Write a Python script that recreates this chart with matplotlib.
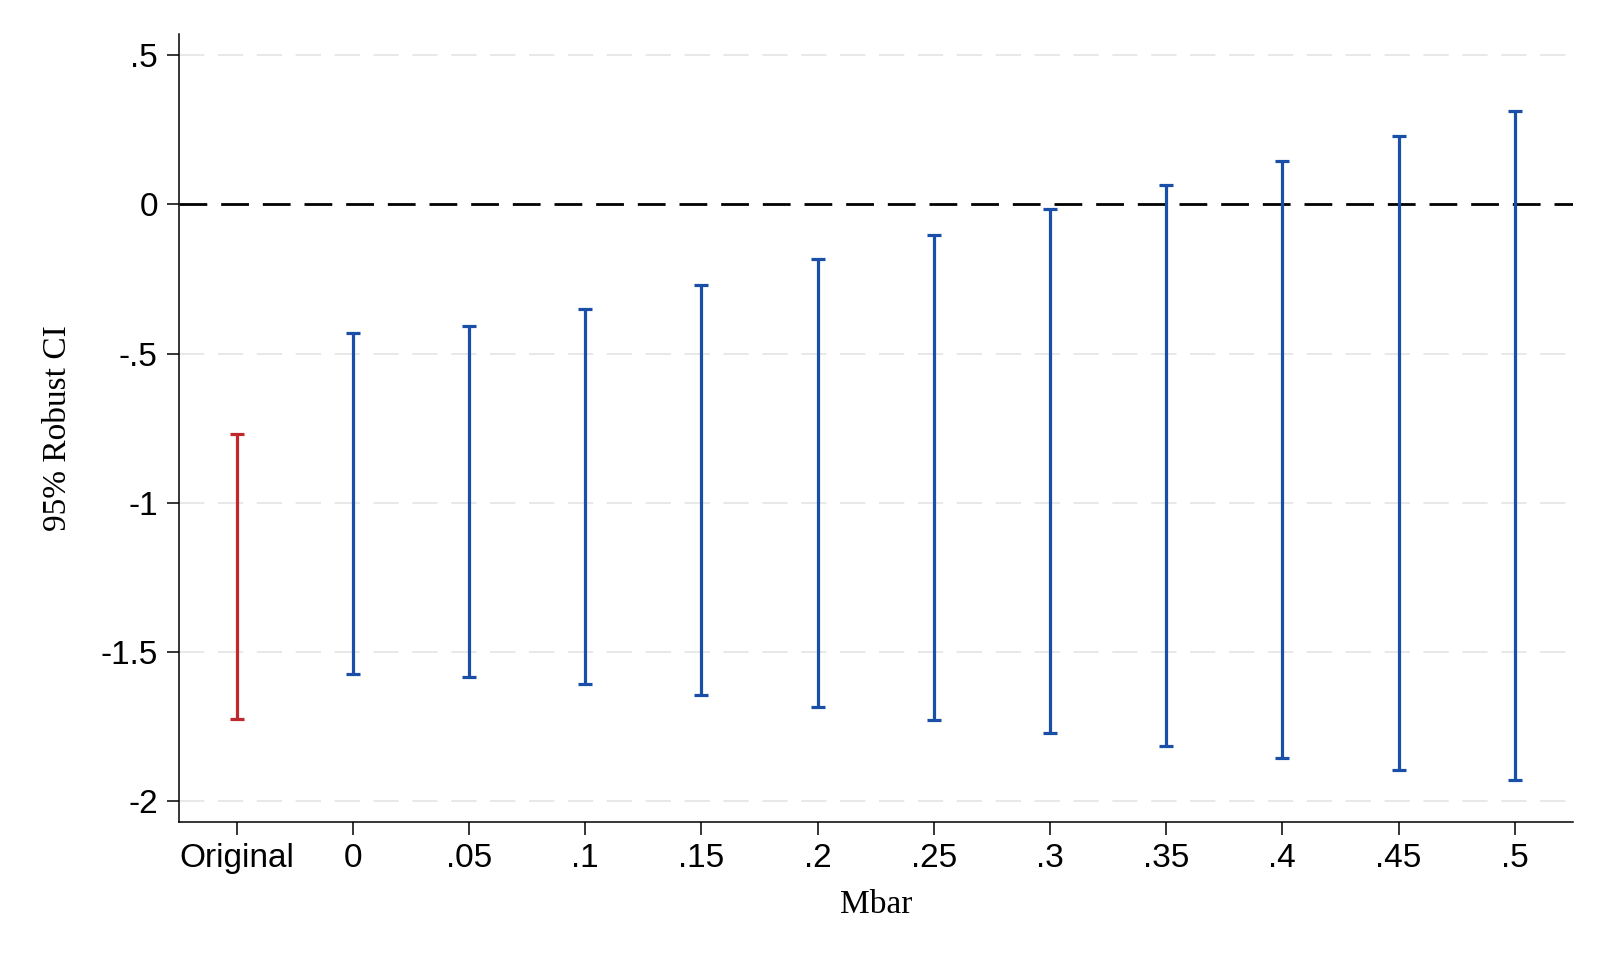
import numpy as np
import matplotlib
matplotlib.use('Agg')
import matplotlib.pyplot as plt

labels = ['Original', '0', '.05', '.1', '.15', '.2', '.25', '.3', '.35', '.4', '.45', '.5']
lower = [-1.724, -1.573, -1.583, -1.608, -1.643, -1.686, -1.729, -1.773, -1.815, -1.856, -1.895, -1.929]
upper = [-0.770, -0.430, -0.409, -0.350, -0.270, -0.184, -0.101, -0.017, 0.066, 0.147, 0.230, 0.313]
yticks = [-2, -1.5, -1, -0.5, 0, 0.5]
yticklabels = ['-2', '-1.5', '-1', '-.5', '0', '.5']

blue = '#1a4fa8'
red = '#c0282d'

fig = plt.figure(figsize=(16.08, 9.64), dpi=100)
ax = fig.add_axes([0.1111, 0.147, 0.8670, 0.8177])

x = np.arange(len(labels))
lo = np.array(lower)
hi = np.array(upper)
mid = (lo + hi) / 2
err = [mid - lo, hi - mid]

# grid lines (light dashed), zero line black dashed
for yt in yticks:
    if yt != 0:
        ax.axhline(yt, color='#e8e8e8', lw=1.4, dashes=(13, 7), zorder=0)
ax.axhline(0, color='black', lw=2.0, dashes=(10, 5), zorder=1)

colors = [red] + [blue] * (len(labels) - 1)
for i in range(len(labels)):
    ax.errorbar(x[i], mid[i], yerr=[[err[0][i]], [err[1][i]]], fmt='none',
                ecolor=colors[i], elinewidth=2.3, capsize=4.8, capthick=2.3, zorder=2)

ax.set_xlim(-0.5, 11.5)
ax.set_ylim(-2.071, 0.571)
ax.set_xticks(x)
ax.set_xticklabels(labels, fontsize=24, family='Liberation Sans')
ax.set_yticks(yticks)
ax.set_yticklabels(yticklabels, fontsize=24, family='Liberation Sans')
ax.tick_params(axis='both', length=9, width=1.1, pad=6, color='black')

ax.spines['top'].set_visible(False)
ax.spines['right'].set_visible(False)
ax.spines['left'].set_linewidth(1.1)
ax.spines['bottom'].set_linewidth(1.1)

ax.set_xlabel('Mbar', fontsize=24, family='Liberation Serif', labelpad=11)
ax.set_ylabel('95% Robust CI', fontsize=24, family='Liberation Serif', labelpad=20)

fig.savefig('out.png', dpi=100)
